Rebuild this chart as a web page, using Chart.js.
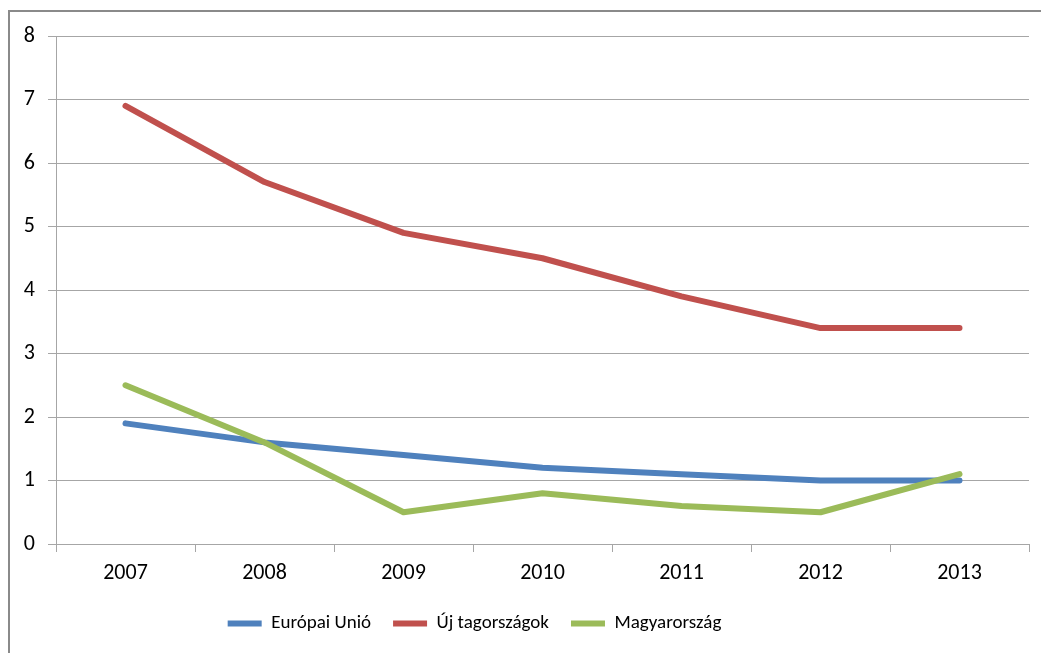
<!DOCTYPE html>
<html>
<head>
<meta charset="utf-8">
<script src="https://cdn.jsdelivr.net/npm/chart.js@4"></script>
<style>
  html, body { margin: 0; padding: 0; background: #fff; }
  #wrap { position: relative; width: 1041px; height: 653px; overflow: hidden; }
  #frame { position: absolute; left: 8px; top: 10px; width: 1100px; height: 700px;
           border-left: 2px solid #8a8a8a; border-top: 2px solid #8a8a8a; box-sizing: border-box; }
  canvas { position: absolute; left: 0; top: 0; }
</style>
</head>
<body>
<div id="wrap">
  <div id="frame"></div>
  <canvas id="c" width="1041" height="653"></canvas>
</div>
<script>
const years = ['2007', '2008', '2009', '2010', '2011', '2012', '2013'];
const europaiUnio = [1.9, 1.6, 1.4, 1.2, 1.1, 1.0, 1.0];
const ujTagorszagok = [6.9, 5.7, 4.9, 4.5, 3.9, 3.4, 3.4];
const magyarorszag = [2.5, 1.6, 0.5, 0.8, 0.6, 0.5, 1.1];
const seriesNames = ['Európai Unió', 'Új tagországok', 'Magyarország'];

const FONT = "Carlito, Lato, 'Open Sans', sans-serif";
const GRID = '#a6a6a6';

function ds(label, data, color, order) {
  return {
    label, data,
    borderColor: color, backgroundColor: color,
    borderWidth: 6, pointRadius: 0, pointHoverRadius: 0,
    tension: 0, borderCapStyle: 'round', borderJoinStyle: 'round',
    fill: false, order
  };
}

// shift the centred legend a little to the left, as in the original
const legendShift = {
  id: 'legendShift',
  afterLayout(chart) {
    if (chart.legend) { chart.legend.right -= 80; }
  }
};

new Chart(document.getElementById('c'), {
  type: 'line',
  data: {
    labels: years,
    datasets: [
      ds(seriesNames[0], europaiUnio, '#4F81BD', 3),
      ds(seriesNames[1], ujTagorszagok, '#C0504D', 2),
      ds(seriesNames[2], magyarorszag, '#9BBB59', 1)
    ]
  },
  plugins: [legendShift],
  options: {
    responsive: false,
    animation: false,
    devicePixelRatio: 1,
    layout: { padding: { left: 0, right: 12, top: 36, bottom: 10 } },
    plugins: {
      tooltip: { enabled: false },
      title: { display: false },
      legend: {
        position: 'bottom',
        labels: {
          usePointStyle: true,
          pointStyle: 'line',
          pointStyleWidth: 34,
          padding: 22,
          color: '#000',
          font: { family: FONT, size: 19 },
          sort: (a, b) => a.datasetIndex - b.datasetIndex
        }
      }
    },
    scales: {
      x: {
        offset: true,
        grid: { display: true, offset: true, drawOnChartArea: false, tickLength: 8, color: GRID, lineWidth: 1 },
        border: { display: true, color: GRID, width: 1 },
        ticks: { color: '#000', font: { family: FONT, size: 22 }, padding: 8, maxRotation: 0 },
        afterFit: (s) => { s.height = 48; }
      },
      y: {
        min: 0, max: 8,
        ticks: { stepSize: 1, color: '#000', font: { family: FONT, size: 22 }, padding: 13 },
        grid: { color: GRID, tickLength: 8, lineWidth: 1 },
        border: { display: true, color: GRID, width: 1 },
        afterFit: (s) => { s.width = 56; }
      }
    }
  }
});
</script>
</body>
</html>
